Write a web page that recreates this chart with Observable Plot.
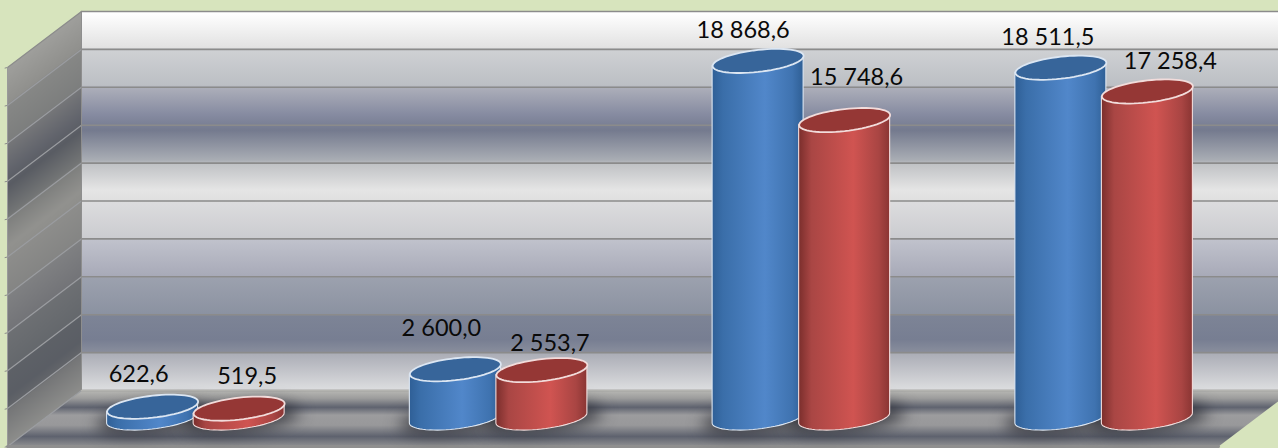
<!DOCTYPE html>
<html>
<head>
<meta charset="utf-8">
<style>
html,body{margin:0;padding:0;background:#d7e4bd;overflow:hidden;width:1278px;height:448px}
svg{display:block}
</style>
<script src="https://cdn.jsdelivr.net/npm/d3@7"></script>
<script src="https://cdn.jsdelivr.net/npm/@observablehq/plot@0.6"></script>
</head>
<body>
<div id="chart"></div>
<script>
// ---- data ----
const groups = [0, 1, 2, 3];
const blueValues = [622.6, 2600.0, 18868.6, 18511.5];
const redValues = [519.5, 2553.7, 15748.6, 17258.4];
const gridTicks = [0, 2000, 4000, 6000, 8000, 10000, 12000, 14000, 16000, 18000, 20000];

// ---- layout: hand-placed labels, in pixels from the top of each cylinder ----
const blueLabelNudge = [[-14, -32], [-14, -41], [-15, -30], [-13, -30]];
const redLabelNudge = [[8, -32], [8, -27], [12, -43], [23, -30]];

// ---- scales and 3D projection ----
const xRange = [44, 1255], yRange = [418, 39];
const pxX = (xRange[1] - xRange[0]) / 4;
const pxY = (yRange[0] - yRange[1]) / 20000;
const depthX = 37 / pxX, depthY = 28 / pxY;      // half the box depth, in data units
const back = (x, v) => ({x: x + depthX, y: v + depthY});
const front = (x, v) => ({x: x - depthX, y: v - depthY});

const a = 45.5, b = 11, k = 5;                    // sheared ellipse, in pixels
const rim = (t) => [a * Math.cos(t), b * Math.sin(t) - k * Math.cos(t)];
const turn = d3.range(0, 64).map((i) => i / 64 * 2 * Math.PI);
const lowerHalf = d3.range(0, 33).map((i) => Math.PI - i / 32 * Math.PI);
const disc = (sx, sy) => ({draw(c) {
  turn.forEach((t, i) => {
    const [px, py] = rim(t);
    i ? c.lineTo(px * sx, py * sy) : c.moveTo(px * sx, py * sy);
  });
  c.closePath();
}});

const locale = d3.formatLocale({decimal: ",", thousands: " ", grouping: [3], currency: ["", ""]});
const fmt = locale.format(",.1f");

const seriesOffset = [-0.1429, 0.1429];
const cylinders = (values, s, nudge) => groups.map((g) => ({
  id: `${s}-${g}`, x: g + 0.5 + seriesOffset[s], v: values[g], dx: nudge[g][0], dy: nudge[g][1]
}));
const blue = cylinders(blueValues, 0, blueLabelNudge);
const red = cylinders(redValues, 1, redLabelNudge);
const sidePoints = (rows) => rows.flatMap((r) => lowerHalf.map((t) => {
  const [px, py] = rim(t);
  return {id: r.id, x: r.x + px / pxX, y1: -py / pxY, y2: r.v - py / pxY};
}));

// ---- gradients ----
const wallStops = [
  [12,"#ffffff"],[47,"#e2e2e2"],[49,"#cfd1d4"],[85,"#bcbfc4"],[87,"#adafba"],[115,"#858aa0"],
  [130,"#747a8e"],[160,"#a9adb4"],[164,"#c0c2c5"],[190,"#e5e5e5"],[200,"#e0e0e0"],[202,"#dcdcde"],
  [238,"#cbccd0"],[240,"#c0c2cc"],[276,"#a8aab8"],[278,"#9ca1ae"],[314,"#8b92a1"],[316,"#7d8496"],
  [340,"#777e92"],[352,"#888d9c"],[354,"#abadb6"],[390,"#dcdddf"]
];
const stopsHtml = wallStops.map(([y, c]) => `<stop offset="${(y - 11) / 380}" stop-color="${c}"/>`).join("");
const defs = () => d3.create("svg:defs").html(`
  <linearGradient id="wall" x1="0" y1="0" x2="0" y2="1">${stopsHtml}</linearGradient>
  <linearGradient id="leftWall" gradientUnits="userSpaceOnUse" x1="0" y1="11" x2="0" y2="391"
    gradientTransform="matrix(1,-0.757,0,1,0,61.3)">${stopsHtml}</linearGradient>
  <linearGradient id="floor" x1="0" y1="0" x2="0" y2="1">
    <stop offset="0" stop-color="#b8b8b4"/><stop offset=".14" stop-color="#9c9c9c"/>
    <stop offset=".3" stop-color="#5f636f"/><stop offset=".44" stop-color="#9c9c9e"/>
    <stop offset=".62" stop-color="#98989a"/><stop offset=".82" stop-color="#5e626e"/>
    <stop offset="1" stop-color="#8f9092"/>
  </linearGradient>
  <linearGradient id="blueSide" x1="0" y1="0" x2="1" y2="0">
    <stop offset="0" stop-color="#2f5f96"/><stop offset=".12" stop-color="#3a6ea9"/>
    <stop offset=".58" stop-color="#5187ca"/><stop offset=".88" stop-color="#3f73b0"/>
    <stop offset="1" stop-color="#2f5f95"/>
  </linearGradient>
  <linearGradient id="redSide" x1="0" y1="0" x2="1" y2="0">
    <stop offset="0" stop-color="#7a2e2c"/><stop offset=".14" stop-color="#a94644"/>
    <stop offset=".6" stop-color="#d05451"/><stop offset=".88" stop-color="#a94543"/>
    <stop offset="1" stop-color="#8a3533"/>
  </linearGradient>
`).node();

// ---- box ----
const wallLine = (pts, o) => Plot.line(pts, {x: "x", y: "y", ...o});
const polygon = (pts, fill, o = {}) => Plot.line(pts, {x: "x", y: "y", fill, stroke: "none", curve: "linear-closed", ...o});
const leftWallPts = [front(0, 0), back(0, 0), back(0, 20000), front(0, 20000)];
const backPts = [back(0, 0), back(4, 0), back(4, 20000), back(0, 20000)];
const floorPts = [front(0, 0), back(0, 0), back(4, 0), front(4, 0)];

const box = [
  polygon(backPts, "url(#wall)"),
  polygon(leftWallPts, "url(#leftWall)"),
  polygon(leftWallPts, "#3e3e38", {fillOpacity: 0.5}),
  polygon(floorPts, "url(#floor)"),
  ...gridTicks.map((v) => wallLine([back(0, v), back(4, v)], {stroke: "#8b8b8b", strokeWidth: 1.6})),
  ...gridTicks.map((v) => wallLine([front(0, v), back(0, v)], {stroke: v === 20000 ? "#8b8b8b" : "#9a9ca0", strokeWidth: 1.2})),
  ...gridTicks.map((v) => wallLine([front(-0.008, v - depthY * 0.02), front(0, v)], {stroke: "#8b8b8b", strokeWidth: 1})),
  wallLine([front(0, 0), front(0, 20000)], {stroke: "#9a9a9a", strokeWidth: 1}),
  wallLine([back(0, 0), back(0, 20000)], {stroke: "#8e8e8e", strokeWidth: 1}),
  wallLine([front(0, 0), front(4, 0)], {stroke: "#8f8f8f", strokeWidth: 3}),
  wallLine([back(0, 0), back(4, 0)], {stroke: "#b4b4b0", strokeWidth: 1.5})
];

// ---- cylinders ----
const shadow = (rows) => Plot.dot(rows, {
  x: "x", y: () => 0, r: 5, dx: 2, dy: 0, symbol: disc(1.28, 1.3), fill: "#1d1e26", fillOpacity: 0.7,
  stroke: "none", imageFilter: "blur(8px)"
});
const side = (rows, fill, stroke) => Plot.area(sidePoints(rows), {
  x1: "x", y1: "y1", y2: "y2", z: "id", fill, stroke, strokeWidth: 1.1
});
const lid = (rows, fill, stroke) => Plot.dot(rows, {
  x: "x", y: "v", r: 5, symbol: disc(1, 1), fill, stroke, strokeWidth: 1.8
});
const labels = (rows) => rows.map((r) => Plot.text([r], {
  x: "x", y: "v", text: (d) => fmt(d.v), dx: r.dx, dy: r.dy,
  fontFamily: "Lato", fontSize: 23.5, fill: "#0a0a0a", textAnchor: "middle", lineAnchor: "middle"
}));

const plot = Plot.plot({
  width: 1278, height: 448,
  marginTop: 0, marginRight: 0, marginBottom: 0, marginLeft: 0,
  style: {background: "transparent"},
  x: {type: "linear", domain: [0, 4], range: xRange, axis: null},
  y: {type: "linear", domain: [0, 20000], range: yRange, axis: null},
  marks: [
    defs,
    ...box,
    shadow(blue), shadow(red),
    side(blue, "url(#blueSide)", "#dce6f2"),
    lid(blue, "#37659a", "#dce6f2"),
    side(red, "url(#redSide)", "#f2dcdb"),
    lid(red, "#953735", "#f2dcdb"),
    ...labels(blue), ...labels(red)
  ]
});
document.getElementById("chart").appendChild(plot);
</script>
</body>
</html>
